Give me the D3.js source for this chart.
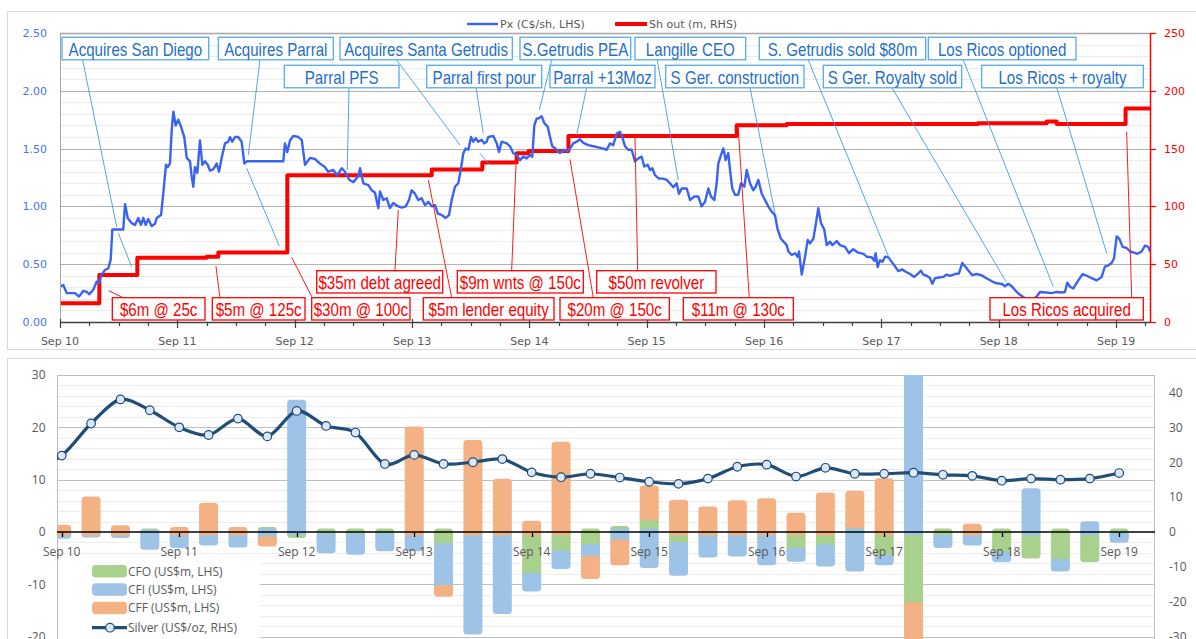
<!DOCTYPE html>
<html><head><meta charset="utf-8">
<script src="https://cdn.jsdelivr.net/npm/d3@7"></script>
<style>body{margin:0;background:#fff;}svg{display:block}</style>
</head><body><svg id="c" width="1196" height="639"></svg>
<script>
// ---------------- DATA ----------------
// Top chart: share price (C$/sh) by decimal year
const priceSeries = [
[2010.667,0.305],[2010.695,0.32],[2010.724,0.25],[2010.752,0.25],[2010.795,0.25],[2010.829,0.22],[2010.866,0.27],[2010.895,0.26],[2010.917,0.24],[2010.951,0.28],[2010.980,0.35],[2010.999,0.34],[2011.022,0.41],[2011.050,0.45],[2011.079,0.465],[2011.099,0.54],[2011.113,0.80],[2011.150,0.80],[2011.206,0.80],[2011.221,1.02],[2011.244,0.90],[2011.278,0.855],[2011.306,0.84],[2011.334,0.90],[2011.357,0.84],[2011.377,0.90],[2011.397,0.84],[2011.419,0.89],[2011.448,0.83],[2011.477,0.85],[2011.491,0.90],[2011.528,0.925],[2011.547,1.11],[2011.570,1.36],[2011.585,1.34],[2011.604,1.37],[2011.619,1.66],[2011.633,1.82],[2011.653,1.70],[2011.675,1.75],[2011.698,1.69],[2011.726,1.60],[2011.747,1.42],[2011.775,1.39],[2011.789,1.26],[2011.803,1.17],[2011.817,1.34],[2011.837,1.29],[2011.860,1.57],[2011.880,1.36],[2011.903,1.39],[2011.926,1.36],[2011.945,1.31],[2011.973,1.32],[2012.002,1.37],[2012.022,1.30],[2012.045,1.42],[2012.073,1.545],[2012.101,1.56],[2012.116,1.60],[2012.135,1.56],[2012.158,1.60],[2012.186,1.60],[2012.215,1.56],[2012.238,1.37],[2012.258,1.39],[2012.272,1.39],[2012.570,1.39],[2012.584,1.545],[2012.604,1.47],[2012.627,1.57],[2012.655,1.61],[2012.698,1.60],[2012.727,1.575],[2012.755,1.36],[2012.798,1.42],[2012.840,1.41],[2012.883,1.37],[2012.925,1.34],[2012.953,1.30],[2012.996,1.315],[2013.030,1.27],[2013.068,1.33],[2013.096,1.30],[2013.132,1.23],[2013.167,1.21],[2013.209,1.26],[2013.224,1.33],[2013.252,1.20],[2013.294,1.185],[2013.323,1.14],[2013.351,1.12],[2013.380,0.985],[2013.394,1.13],[2013.422,1.055],[2013.451,1.07],[2013.479,0.985],[2013.507,1.03],[2013.550,1.00],[2013.579,0.99],[2013.613,1.00],[2013.641,1.055],[2013.664,1.14],[2013.692,1.11],[2013.720,1.055],[2013.749,1.07],[2013.778,1.01],[2013.806,1.04],[2013.835,1.00],[2013.863,1.01],[2013.886,0.94],[2013.920,0.925],[2013.954,0.90],[2013.982,0.925],[2014.005,1.055],[2014.033,1.17],[2014.061,1.20],[2014.082,1.315],[2014.104,1.46],[2014.124,1.50],[2014.147,1.49],[2014.170,1.60],[2014.189,1.56],[2014.210,1.59],[2014.232,1.56],[2014.261,1.575],[2014.283,1.545],[2014.303,1.56],[2014.317,1.60],[2014.360,1.61],[2014.389,1.545],[2014.408,1.47],[2014.431,1.56],[2014.474,1.545],[2014.502,1.52],[2014.530,1.46],[2014.559,1.445],[2014.587,1.40],[2014.615,1.43],[2014.644,1.415],[2014.672,1.445],[2014.692,1.43],[2014.709,1.70],[2014.729,1.76],[2014.743,1.76],[2014.772,1.78],[2014.794,1.72],[2014.823,1.69],[2014.843,1.60],[2014.862,1.52],[2014.900,1.49],[2014.928,1.46],[2014.956,1.49],[2014.985,1.48],[2015.013,1.50],[2015.041,1.545],[2015.070,1.56],[2015.098,1.58],[2015.127,1.55],[2015.169,1.53],[2015.212,1.52],[2015.254,1.51],[2015.297,1.50],[2015.326,1.49],[2015.354,1.545],[2015.382,1.53],[2015.411,1.63],[2015.439,1.645],[2015.459,1.60],[2015.482,1.52],[2015.510,1.49],[2015.539,1.49],[2015.567,1.39],[2015.595,1.415],[2015.624,1.43],[2015.646,1.345],[2015.675,1.36],[2015.695,1.315],[2015.715,1.33],[2015.737,1.27],[2015.772,1.24],[2015.808,1.24],[2015.837,1.23],[2015.865,1.20],[2015.894,1.165],[2015.922,1.20],[2015.942,1.11],[2015.965,1.155],[2016.008,1.155],[2016.036,1.055],[2016.072,1.085],[2016.107,1.085],[2016.135,1.00],[2016.164,1.04],[2016.192,1.155],[2016.215,1.085],[2016.243,1.055],[2016.263,1.20],[2016.277,1.37],[2016.300,1.445],[2016.320,1.50],[2016.340,1.40],[2016.362,1.46],[2016.377,1.315],[2016.396,1.155],[2016.419,1.10],[2016.447,1.10],[2016.471,1.20],[2016.499,1.17],[2016.519,1.315],[2016.547,1.20],[2016.575,1.14],[2016.596,1.17],[2016.618,1.23],[2016.647,1.11],[2016.675,1.055],[2016.703,1.00],[2016.732,0.955],[2016.760,0.925],[2016.783,0.80],[2016.811,0.72],[2016.860,0.665],[2016.874,0.61],[2016.903,0.58],[2016.931,0.595],[2016.954,0.565],[2016.965,0.61],[2016.988,0.41],[2017.016,0.565],[2017.039,0.71],[2017.059,0.68],[2017.087,0.72],[2017.107,0.84],[2017.129,0.985],[2017.152,0.855],[2017.180,0.80],[2017.201,0.665],[2017.229,0.695],[2017.249,0.665],[2017.286,0.70],[2017.314,0.665],[2017.357,0.65],[2017.391,0.595],[2017.427,0.63],[2017.470,0.60],[2017.513,0.59],[2017.542,0.565],[2017.584,0.56],[2017.606,0.53],[2017.618,0.595],[2017.635,0.475],[2017.655,0.535],[2017.675,0.52],[2017.698,0.565],[2017.726,0.56],[2017.755,0.52],[2017.777,0.49],[2017.811,0.44],[2017.845,0.455],[2017.874,0.435],[2017.911,0.415],[2017.947,0.39],[2017.982,0.42],[2018.004,0.445],[2018.024,0.41],[2018.053,0.40],[2018.081,0.38],[2018.101,0.33],[2018.124,0.38],[2018.158,0.385],[2018.194,0.39],[2018.223,0.41],[2018.252,0.40],[2018.294,0.415],[2018.328,0.42],[2018.356,0.51],[2018.385,0.475],[2018.408,0.445],[2018.442,0.405],[2018.479,0.415],[2018.516,0.405],[2018.544,0.39],[2018.578,0.37],[2018.612,0.35],[2018.650,0.335],[2018.692,0.33],[2018.720,0.31],[2018.748,0.33],[2018.777,0.31],[2018.820,0.26],[2018.848,0.235],[2018.891,0.205],[2018.948,0.19],[2018.990,0.22],[2019.019,0.26],[2019.076,0.255],[2019.118,0.25],[2019.161,0.26],[2019.203,0.255],[2019.231,0.26],[2019.251,0.34],[2019.274,0.305],[2019.302,0.29],[2019.345,0.36],[2019.382,0.415],[2019.416,0.40],[2019.459,0.38],[2019.502,0.36],[2019.544,0.39],[2019.572,0.48],[2019.601,0.49],[2019.629,0.51],[2019.649,0.55],[2019.672,0.74],[2019.694,0.72],[2019.723,0.65],[2019.757,0.64],[2019.786,0.61],[2019.820,0.60],[2019.848,0.59],[2019.885,0.61],[2019.913,0.66],[2019.942,0.65],[2019.956,0.61]
];
// Shares outstanding (m), step changes
const sharesDates  = [2010.667,2011.002,2011.326,2011.917,2012.016,2012.604,2013.835,2014.266,2014.559,2014.660,2015.000,2016.434,2016.860,2018.490,2019.076,2019.161,2019.748,2019.956];
const sharesValues = [16.2,40.6,55.6,56.5,60.2,127,132,138,146,148,160.8,170.3,171.2,172,173.5,171.2,184.7,184.7];
const topTickLabels = ["Sep 10","Sep 11","Sep 12","Sep 13","Sep 14","Sep 15","Sep 16","Sep 17","Sep 18","Sep 19"];
const topTickDates  = [2010.667,2011.667,2012.667,2013.667,2014.667,2015.667,2016.667,2017.667,2018.667,2019.667];
const leftTicks  = [0,0.5,1,1.5,2,2.5];
const rightTicks = [0,50,100,150,200,250];

// Bottom chart: quarterly cash flows (US$m) and silver (US$/oz)
const quarters = ["Jun 10","Sep 10","Dec 10","Mar 11","Jun 11","Sep 11","Dec 11","Mar 12","Jun 12","Sep 12","Dec 12","Mar 13","Jun 13","Sep 13","Dec 13","Mar 14","Jun 14","Sep 14","Dec 14","Mar 15","Jun 15","Sep 15","Dec 15","Mar 16","Jun 16","Sep 16","Dec 16","Mar 17","Jun 17","Sep 17","Dec 17","Mar 18","Jun 18","Sep 18","Dec 18","Mar 19","Jun 19","Sep 19"];
const cfo = [null,0,0,0,-0.2,0,0,0,0.3,-0.5,-0.9,-0.9,-0.8,0,-2.8,0,0,-8.5,-4.2,-3.0,0.5,2.9,-2.6,-0.5,-0.3,-0.3,-3.7,-3.0,1.4,-5.0,-14.1,-1.2,0,-4.5,-4.4,-5.8,-5.1,-0.6];
const cfi = [null,-0.6,-0.4,-0.5,-2.5,-2.4,-1.9,-2.3,-1.5,24.6,-2.5,-2.8,-2.2,-3.0,-8.0,-18.9,-15.0,-2.2,-2.2,-2.2,-2.1,-6.2,-5.1,-3.7,-3.7,-5.4,-1.3,-2.9,-6.9,-0.7,62,-1.2,-1.9,-0.6,7.7,-1.1,1.4,-0.8];
const cff = [null,0.7,6.1,0.6,0,0.3,4.9,0.3,-0.6,0,0,0,0,19.5,-0.9,16.9,9.5,1.5,16.6,-3.1,-3.6,5.3,5.5,4.2,5.4,5.8,3.0,6.9,5.8,9.6,-18,0,0.9,0,0,0,0,0];
const silver = [18.6,21.9,31.1,38.0,34.9,30.0,27.8,32.5,27.4,34.7,30.4,28.5,19.5,22.1,19.5,20.0,20.9,17.1,15.7,16.7,15.6,14.4,13.8,15.3,18.7,19.3,15.9,18.4,16.7,16.7,17.0,16.4,16.1,14.7,15.3,15.0,15.3,16.9];
const bottomLeftTicks  = [-20,-10,0,10,20,30];
const bottomRightTicks = [-30,-20,-10,0,10,20,30,40];

// Annotations (text, box layout in px, leader lines in data coordinates [date, LHS value])
const blueNotes = [
 {text:"Acquires San Diego", x0:62, x1:208.7, row:0},
 {text:"Acquires Parral", x0:218.3, x1:333.3, row:0},
 {text:"Acquires Santa Getrudis", x0:340, x1:512.3, row:0},
 {text:"S.Getrudis PEA", x0:520, x1:630.7, row:0},
 {text:"Langille CEO", x0:635, x1:745.7, row:0},
 {text:"S. Getrudis sold $80m", x0:759.3, x1:925.7, row:0},
 {text:"Los Ricos optioned", x0:928.3, x1:1076, row:0},
 {text:"Parral PFS", x0:284.3, x1:399, row:1},
 {text:"Parral first pour", x0:426.7, x1:541.7, row:1},
 {text:"Parral +13Moz", x0:550, x1:655, row:1},
 {text:"S Ger. construction", x0:665.7, x1:804, row:1},
 {text:"S Ger. Royalty sold", x0:823.3, x1:961.7, row:1},
 {text:"Los Ricos + royalty", x0:981.7, x1:1143.3, row:1}
];
const blueLeaders = [[2010.860,2.266,2011.150,0.824],[2011.164,0.767,2011.278,0.478],[2012.371,2.266,2012.272,1.445],[2012.258,1.330,2012.536,0.657],[2013.130,2.030,2013.115,1.315],[2013.536,2.266,2014.076,1.531],[2014.212,2.030,2014.274,1.632],[2014.246,1.459,2014.331,1.358],[2014.857,2.266,2014.752,1.834],[2015.156,2.030,2015.070,1.618],[2015.757,2.266,2015.936,1.228],[2016.547,2.030,2016.760,0.940],[2017.044,2.266,2017.740,0.536],[2017.755,2.030,2018.729,0.349],[2018.365,2.266,2019.132,0.305],[2019.161,2.030,2019.587,0.594]];
const redNotes = [
 {text:"$6m @ 25c", x0:112.3, x1:205, row:1},
 {text:"$5m @ 125c", x0:212.3, x1:305, row:1},
 {text:"$30m @ 100c", x0:311.7, x1:410, row:1},
 {text:"$35m debt agreed", x0:316.7, x1:442.7, row:0},
 {text:"$5m lender equity", x0:423.3, x1:554, row:1},
 {text:"$9m wnts @ 150c", x0:457.3, x1:583.3, row:0},
 {text:"$20m @ 150c", x0:560, x1:669.3, row:1},
 {text:"$50m revolver", x0:596.7, x1:716, row:0},
 {text:"$11m @ 130c", x0:683.3, x1:793.3, row:1},
 {text:"Los Ricos acquired", x0:990, x1:1143.3, row:1}
];
const redLeaders = [[2011.082,0.271,2011.206,0.210],[2011.996,0.484,2012.030,0.210],[2012.641,0.560,2012.812,0.219],[2013.550,0.969,2013.522,0.450],[2013.806,1.228,2014.005,0.210],[2014.553,1.358,2014.516,0.444],[2015.013,1.407,2015.212,0.210],[2015.567,1.603,2015.590,0.444],[2016.447,1.676,2016.541,0.210],[2019.757,1.646,2019.800,0.210]];

// ---------------- DRAW ----------------
const svg = d3.select("#c");
const DV = "DejaVu Sans, Verdana, sans-serif";
const OS = "Open Sans, Segoe UI, sans-serif";
const LS = "Liberation Sans, Arial, sans-serif";

// panels
svg.append("rect").attr("x",7.5).attr("y",11.5).attr("width",1200).attr("height",338).attr("fill","#fff").attr("stroke","#d9d9d9");
svg.append("rect").attr("x",7.5).attr("y",358.5).attr("width",1200).attr("height",300).attr("fill","#fff").attr("stroke","#d9d9d9");

// ===== TOP =====
const xT = d3.scaleLinear().domain([2010.667,2019.956]).range([60,1150]);
const yL = d3.scaleLinear().domain([0,2.5]).range([322,33]);
const yR = d3.scaleLinear().domain([0,250]).range([322,33]);
const gT = svg.append("g");
svg.append("clipPath").attr("id","clipT").append("rect").attr("x",60).attr("y",30).attr("width",1090).attr("height",294);

// minor grid
d3.range(1,25).filter(i=>i%5!==0).forEach(i=>{
  gT.append("line").attr("x1",60).attr("x2",1150).attr("y1",Math.round(yL(i/10))+0.5).attr("y2",Math.round(yL(i/10))+0.5).attr("stroke","#ececec");
});
leftTicks.forEach(v=>{
  if(v===0) return;
  gT.append("line").attr("x1",60).attr("x2",1150).attr("y1",Math.round(yL(v))+0.5).attr("y2",Math.round(yL(v))+0.5).attr("stroke", v===2.5?"#a6a6a6":"#b3b3b3").attr("stroke-width", v===2.5?1.5:1);
});

// shares line
const shareData = sharesDates.map((d,i)=>[d,sharesValues[i]]);
gT.append("path").datum(shareData).attr("clip-path","url(#clipT)")
  .attr("d", d3.line().x(d=>xT(d[0])).y(d=>yR(d[1])).curve(d3.curveStepAfter))
  .attr("fill","none").attr("stroke","#ff0000").attr("stroke-width",4).attr("stroke-linejoin","round");
// price line
gT.append("path").datum(priceSeries).attr("clip-path","url(#clipT)")
  .attr("d", d3.line().x(d=>xT(d[0])).y(d=>yL(d[1])))
  .attr("fill","none").attr("stroke","#3b63f2").attr("stroke-width",2.4).attr("stroke-linejoin","round");

// axes
gT.append("line").attr("x1",60.5).attr("x2",60.5).attr("y1",33).attr("y2",322).attr("stroke","#a6a6a6");
gT.append("line").attr("x1",60).attr("x2",1150).attr("y1",322.5).attr("y2",322.5).attr("stroke","#404040").attr("stroke-width",1.3);
d3.range(0,38).forEach(j=>{
  const t = topTickDates[0] + j*0.25;
  if (t > 2019.956) return;
  const x = Math.round(xT(t))+0.5;
  const major = j%4===0;
  gT.append("line").attr("x1",x).attr("x2",x).attr("y1",major?319:322).attr("y2",major?328:326).attr("stroke","#404040").attr("stroke-width",1.2);
});
topTickDates.forEach((t,i)=>{
  gT.append("text").attr("x",xT(t)).attr("y",345).attr("text-anchor","middle").attr("font-family",DV).attr("font-size",11).attr("fill","#595959").text(topTickLabels[i]);
});
leftTicks.forEach(v=>{
  gT.append("text").attr("x",47).attr("y",yL(v)+4).attr("text-anchor","end").attr("font-family",DV).attr("font-size",11).attr("fill","#4a72f2").text(d3.format(".2f")(v));
});
// right red axis
gT.append("line").attr("x1",1150.5).attr("x2",1150.5).attr("y1",33).attr("y2",323).attr("stroke","#ff0000").attr("stroke-width",1.5);
rightTicks.forEach(v=>{
  const y = Math.round(yR(v))+0.5;
  gT.append("line").attr("x1",1150).attr("x2",1156).attr("y1",y).attr("y2",y).attr("stroke","#ff0000").attr("stroke-width",1.2);
  gT.append("text").attr("x",1164).attr("y",yR(v)+4).attr("font-family",DV).attr("font-size",11).attr("fill","#ff0000").text(v);
});

// leaders
blueLeaders.forEach(s=>{
  gT.append("line").attr("x1",xT(s[0])).attr("y1",yL(s[1])).attr("x2",xT(s[2])).attr("y2",yL(s[3])).attr("stroke","#3d9ce8").attr("stroke-width",0.9);
});
redLeaders.forEach(s=>{
  gT.append("line").attr("x1",xT(s[0])).attr("y1",yL(s[1])).attr("x2",xT(s[2])).attr("y2",yL(s[3])).attr("stroke","#ff0000").attr("stroke-width",0.9);
});
// boxes
function noteBox(n, rowY, h, border, col){
  const y0 = rowY[n.row];
  gT.append("rect").attr("x",n.x0).attr("y",y0).attr("width",n.x1-n.x0).attr("height",h).attr("fill","#fff").attr("stroke",border).attr("stroke-width",1.3);
  gT.append("text").attr("transform",`translate(${(n.x0+n.x1)/2},${y0+18.2}) scale(0.84,1)`).attr("text-anchor","middle").attr("font-family",LS).attr("font-size",18).attr("fill",col).text(n.text);
}
blueNotes.forEach(n=>noteBox(n,[37.3,65.3],22.5,"#55aaee","#1f6fc5"));
redNotes.forEach(n=>noteBox(n,[270.7,297.7],22.3,"#ff0000","#ff0000"));

// legend top
gT.append("line").attr("x1",467).attr("x2",498).attr("y1",24).attr("y2",24).attr("stroke","#3b63f2").attr("stroke-width",2.4);
gT.append("text").attr("x",500).attr("y",28).attr("font-family",DV).attr("font-size",11).attr("fill","#595959").text("Px (C$/sh, LHS)");
gT.append("line").attr("x1",615).attr("x2",647).attr("y1",24).attr("y2",24).attr("stroke","#ff0000").attr("stroke-width",4);
gT.append("text").attr("x",649).attr("y",28).attr("font-family",DV).attr("font-size",11).attr("fill","#595959").text("Sh out (m, RHS)");

// ===== BOTTOM =====
const xB = d3.scaleLinear().domain([0.84,38.22]).range([57,1155]);
const yB = d3.scaleLinear().domain([-30,30]).range([689,375]);
const yB2 = d3.scaleLinear().domain([-45,45]).range([689,375]);
const gB = svg.append("g");
svg.append("clipPath").attr("id","clipB").append("rect").attr("x",57).attr("y",375).attr("width",1098).attr("height",314);

d3.range(-15,16).forEach(i=>{
  const v=i*2; if(v%10===0) return;
  const y=Math.round(yB(v))+0.5;
  gB.append("line").attr("x1",57).attr("x2",1155).attr("y1",y).attr("y2",y).attr("stroke","#ededed");
});
[-20,-10,10,20].forEach(v=>{
  const y=Math.round(yB(v))+0.5;
  gB.append("line").attr("x1",57).attr("x2",1155).attr("y1",y).attr("y2",y).attr("stroke","#bfbfbf");
});
gB.append("rect").attr("x",57.5).attr("y",375.5).attr("width",1097).attr("height",314).attr("fill","none").attr("stroke","#bfbfbf");

// stacked bars
const series = [{v:cfo,c:"#a9d18e"},{v:cfi,c:"#9dc3e6"},{v:cff,c:"#f4b183"}];
const posAcc = quarters.map(()=>0), negAcc = quarters.map(()=>0);
const barsG = gB.append("g").attr("clip-path","url(#clipB)");
series.forEach(s=>{
  s.v.forEach((v,k)=>{
    if(v===null || Math.abs(v)<0.05) return;
    let a,b;
    if(v>0){a=posAcc[k];b=a+v;posAcc[k]=b;} else {a=negAcc[k];b=a+v;negAcc[k]=b;}
    const yt=yB(Math.max(a,b)), yb=yB(Math.min(a,b));
    barsG.append("rect").attr("x",xB(k)-6).attr("width",12).attr("y",yt).attr("height",Math.max(0.01,yb-yt))
      .attr("fill",s.c).attr("stroke",s.c).attr("stroke-width",7).attr("stroke-linejoin","round");
  });
});

// zero axis
gB.append("line").attr("x1",57).attr("x2",1155).attr("y1",yB(0)).attr("y2",yB(0)).attr("stroke","#000").attr("stroke-width",1.3);
quarters.forEach((q,k)=>{
  if(!q.startsWith("Sep")) return;
  const x=Math.round(xB(k))+0.5;
  gB.append("line").attr("x1",x).attr("x2",x).attr("y1",yB(0)).attr("y2",yB(0)+5).attr("stroke","#000").attr("stroke-width",1.3);
  gB.append("text").attr("x",xB(k)).attr("y",555.5).attr("text-anchor","middle").attr("font-family",OS).attr("font-size",12).attr("fill","#595959").text(q);
});

// silver line
const silverData = silver.map((v,k)=>[k,v]);
const silG = gB.append("g").attr("clip-path","url(#clipB)");
silG.append("path").datum(silverData)
  .attr("d", d3.line().x(d=>xB(d[0])).y(d=>yB2(d[1])).curve(d3.curveCardinal.tension(0.1)))
  .attr("fill","none").attr("stroke","#1f4e79").attr("stroke-width",3.2);
silG.selectAll("circle").data(silverData.slice(1)).enter().append("circle")
  .attr("cx",d=>xB(d[0])).attr("cy",d=>yB2(d[1])).attr("r",4.3)
  .attr("fill","#dce8f5").attr("stroke","#1f4e79").attr("stroke-width",1.2);

// axis labels
bottomLeftTicks.forEach(v=>{
  gB.append("text").attr("x",45.5).attr("y",yB(v)+4.3).attr("text-anchor","end").attr("font-family",OS).attr("font-size",12).attr("fill","#595959").text(v);
});
bottomRightTicks.forEach(v=>{
  gB.append("text").attr("x",1169).attr("y",yB2(v)+4.3).attr("font-family",OS).attr("font-size",12).attr("fill","#595959").text(v);
});

// legend bottom
gB.append("rect").attr("x",58).attr("y",560).attr("width",202).attr("height",90).attr("fill","#fff");
const legItems = [{t:"CFO (US$m, LHS)",c:"#a9d18e",y:571.3},{t:"CFI (US$m, LHS)",c:"#9dc3e6",y:589.5},{t:"CFF (US$m, LHS)",c:"#f4b183",y:608}];
legItems.forEach(d=>{
  gB.append("rect").attr("x",92).attr("y",d.y-6.3).attr("width",35).attr("height",12.6).attr("rx",4).attr("fill",d.c);
  gB.append("text").attr("x",128).attr("y",d.y+4.3).attr("font-family",OS).attr("font-size",12).attr("fill","#595959").text(d.t);
});
gB.append("line").attr("x1",92).attr("x2",127).attr("y1",627.7).attr("y2",627.7).attr("stroke","#1f4e79").attr("stroke-width",3.2);
gB.append("circle").attr("cx",110).attr("cy",627.7).attr("r",4.3).attr("fill","#dce8f5").attr("stroke","#1f4e79").attr("stroke-width",1.2);
gB.append("text").attr("x",128).attr("y",632).attr("font-family",OS).attr("font-size",12).attr("fill","#595959").text("Silver (US$/oz, RHS)");
</script></body></html>
